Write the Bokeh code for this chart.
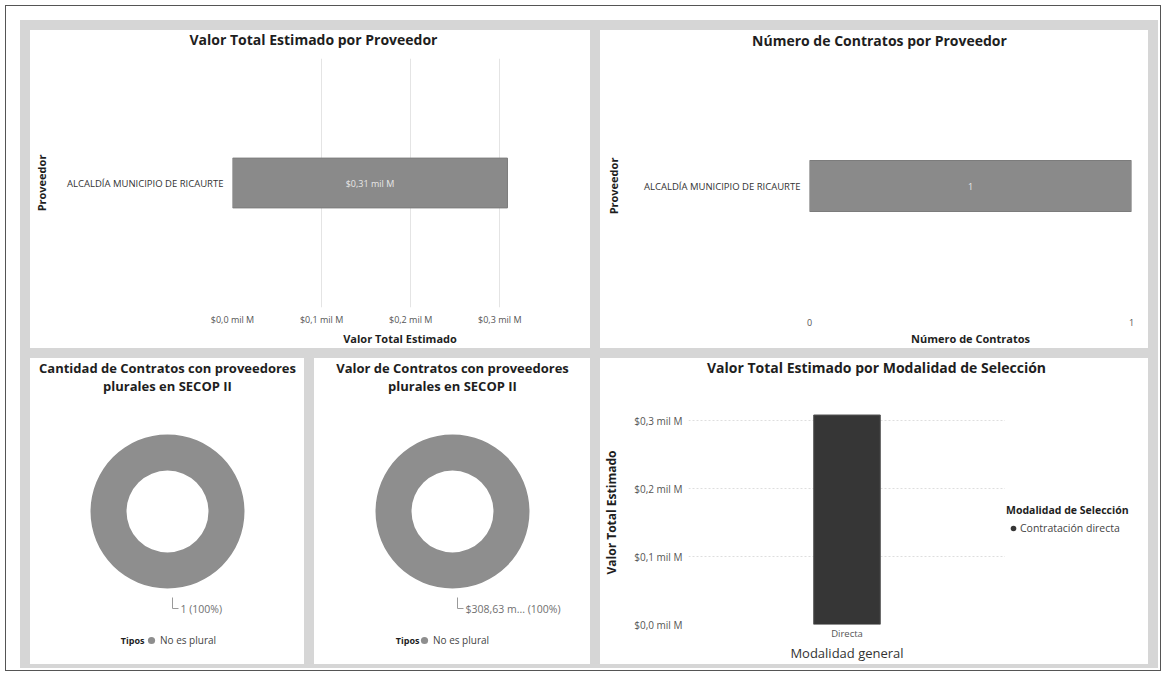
import numpy as np
from bokeh.plotting import figure
from bokeh.models import (ColumnDataSource, FixedTicker, Range1d, FactorRange,
                          Legend, LegendItem, Label)
from bokeh.layouts import row, column
from bokeh.core.properties import value
from bokeh.embed import file_html
from bokeh.resources import INLINE

# ---------------- data ----------------
proveedores = ["ALCALDÍA MUNICIPIO DE RICAURTE"]
valor_total_mil_m = [0.30863]          # mil millones
valor_labels = ["$0,31 mil M"]
num_contratos = [1]
num_contratos_labels = ["1"]
valor_ticks = [0, 0.1, 0.2, 0.3]
valor_tick_labels = ["$0,0 mil M", "$0,1 mil M", "$0,2 mil M", "$0,3 mil M"]
contratos_ticks = [0, 1]
contratos_tick_labels = ["0", "1"]
tipos = ["No es plural"]
cantidad_tipo = [1]
cantidad_tipo_labels = ["1 (100%)"]
valor_tipo = [308.63]                  # millones
valor_tipo_labels = ["$308,63 m... (100%)"]
modalidad_general = ["Directa"]
modalidad_seleccion = ["Contratación directa"]
valor_modalidad = [0.30863]

# ---------------- style ----------------
FONT = "Open Sans"
BAR_GRAY = "#8a8a8a"
DONUT_GRAY = "#8e8e8e"
DARK = "#363636"
TXT = "#1e1e1e"
TICK = "#555555"
PANEL = {"background-color": "white"}
COMMON = dict(output_backend="svg", toolbar_location=None, styles=PANEL, frame_align=False)
BOTTOM_H = 306


def base_style(p):
    p.outline_line_color = None
    p.background_fill_color = None
    p.border_fill_color = None
    for ax in p.axis:
        ax.axis_line_color = None
        ax.major_tick_line_color = None
        ax.minor_tick_line_color = None
        ax.major_tick_out = 0
        ax.major_tick_in = 0
        ax.minor_tick_out = 0
        ax.major_label_text_font = FONT
        ax.major_label_text_color = TICK
        ax.axis_label_text_font = FONT
        ax.axis_label_text_font_style = "bold"
        ax.axis_label_text_color = TXT
        ax.axis_label_text_font_size = "11px"


def blank(p):
    base_style(p)
    p.axis.visible = False
    p.grid.grid_line_color = None


def title_strip(text, width, height, cx, cy_from_top):
    # a thin strip holding a panel title (1 data unit = 1 px)
    t = figure(width=width, height=height, x_range=Range1d(0, width),
               y_range=Range1d(0, height), min_border=0, title=None, **COMMON)
    t.text(x=[cx], y=[height - cy_from_top], text=[text], text_align="center",
           text_baseline="middle", text_font=value(FONT), text_font_size="14px",
           text_font_style="bold", text_color=TXT)
    blank(t)
    return t


def hbar_panel(values, labels, xmax, ticks, tick_labels, xlabel, width, bl, br, ystand):
    p = figure(width=width, height=290, y_range=FactorRange(factors=proveedores),
               x_range=Range1d(0, xmax), min_border_left=bl, min_border_right=br,
               min_border_top=0, min_border_bottom=35, title=None, **COMMON)
    src = ColumnDataSource(dict(prov=proveedores, v=values, lab=labels,
                                mid=[v / 2 for v in values]))
    p.hbar(y="prov", left=0, right="v", height=0.2, source=src,
           fill_color=BAR_GRAY, line_color="#7c7c7c")
    p.text(x="mid", y="prov", text="lab", source=src, text_align="center",
           text_baseline="middle", text_color="#e8e8e8", text_font_size="9px",
           text_font=value(FONT))
    base_style(p)
    p.xaxis.ticker = FixedTicker(ticks=ticks)
    p.xaxis.major_label_overrides = dict(zip(ticks, tick_labels))
    p.xaxis.major_label_text_font_size = "9px"
    p.xaxis.major_label_standoff = 5
    p.xaxis.axis_label = xlabel
    p.xaxis.axis_label_standoff = 2
    p.yaxis.axis_label = "Proveedor"
    p.yaxis.major_label_text_font_size = "9.5px"
    p.yaxis.major_label_text_color = "#333333"
    p.yaxis.major_label_standoff = 9
    p.yaxis.axis_label_standoff = ystand
    p.ygrid.grid_line_color = None
    p.xgrid.grid_line_color = "#e4e4e4"
    return p


t1 = title_strip("Valor Total Estimado por Proveedor", 560, 28, 283, 9)
p1 = hbar_panel(valor_total_mil_m, valor_labels, 0.376, valor_ticks, valor_tick_labels,
                "Valor Total Estimado", 560, 201, 23, 15)
t2 = title_strip("Número de Contratos por Proveedor", 548, 28, 279, 10)
p2 = hbar_panel(num_contratos, num_contratos_labels, 1, contratos_ticks,
                contratos_tick_labels, "Número de Contratos", 548, 209, 17, 20)


def donut_panel(title_lines, values, labels, width, leg_x, tipos_x):
    half = width / 2
    # 1 data unit = 1 px; donut centre 153 px below the panel top
    p = figure(width=width, height=BOTTOM_H, x_range=Range1d(-half, half),
               y_range=Range1d(153 - BOTTOM_H, 153), min_border=0, title=None, **COMMON)
    for k, line in enumerate(title_lines):
        p.text(x=[0], y=[144 - 18 * k], text=[line], text_align="center",
               text_baseline="middle", text_font=value(FONT), text_font_size="13px",
               text_font_style="bold", text_color=TXT)
    total = float(sum(values))
    cum = np.concatenate([[0.0], np.cumsum(values)]) / total
    start = np.pi / 2 - 2 * np.pi * cum[:-1]
    end = np.pi / 2 - 2 * np.pi * cum[1:]
    mid = (start + end) / 2
    src = ColumnDataSource(dict(tipo=tipos, v=values, s=start, e=end))
    p.annular_wedge(x=0, y=0, inner_radius=41, outer_radius=77, start_angle="s",
                    end_angle="e", direction="clock", source=src,
                    fill_color=DONUT_GRAY, line_color=None)
    ax = 77 * np.cos(mid)
    ay = 77 * np.sin(mid)
    for i in range(len(values)):
        p.line(x=[ax[i] + 5, ax[i] + 5, ax[i] + 11], y=[ay[i] - 9, ay[i] - 20, ay[i] - 20],
               line_color="#9a9a9a", line_width=1)
        p.text(x=[ax[i] + 13], y=[ay[i] - 20], text=[labels[i]], text_align="left",
               text_baseline="middle", text_color="#707070", text_font_size="10.5px",
               text_font=value(FONT))
    blank(p)
    proxy = p.scatter(x=[np.nan], y=[np.nan], marker="circle", size=8,
                      fill_color=DONUT_GRAY, line_color=None)
    leg = Legend(items=[LegendItem(label=tipos[0], renderers=[proxy])],
                 location=(leg_x, 15), padding=0, margin=0, spacing=0,
                 glyph_width=18, glyph_height=18, label_height=12, label_standoff=0,
                 label_text_font=FONT, label_text_font_size="10px",
                 label_text_color="#444444", border_line_color=None,
                 background_fill_alpha=0)
    p.add_layout(leg)
    p.add_layout(Label(x=tipos_x, y=-129, text="Tipos", text_align="right",
                       text_baseline="middle", text_font=FONT, text_font_size="9px",
                       text_font_style="bold", text_color=TXT))
    return p


p3 = donut_panel(["Cantidad de Contratos con proveedores", "plurales en SECOP II"],
                 cantidad_tipo, cantidad_tipo_labels, 274, 112, -23)
p4 = donut_panel(["Valor de Contratos con proveedores", "plurales en SECOP II"],
                 valor_tipo, valor_tipo_labels, 276, 101, -33)

# ---------------- modalidad ----------------
p5t = title_strip("Valor Total Estimado por Modalidad de Selección", 548, 42, 276, 9)

p5 = figure(width=405, height=BOTTOM_H - 42, x_range=FactorRange(factors=modalidad_general),
            y_range=Range1d(0, 0.33), min_border_left=87, min_border_right=0,
            min_border_top=0, min_border_bottom=40, title=None, **COMMON)
src5 = ColumnDataSource(dict(m=modalidad_general, v=valor_modalidad, s=modalidad_seleccion))
p5.vbar(x="m", top="v", width=0.21, source=src5, fill_color=DARK, line_color="#555555")
base_style(p5)
p5.yaxis.ticker = FixedTicker(ticks=valor_ticks)
p5.yaxis.major_label_overrides = dict(zip(valor_ticks, valor_tick_labels))
p5.yaxis.major_label_text_font_size = "10px"
p5.yaxis.major_label_standoff = 6
p5.yaxis.axis_label = "Valor Total Estimado"
p5.yaxis.axis_label_text_font_size = "12px"
p5.yaxis.axis_label_standoff = 11
p5.xaxis.major_label_text_font_size = "9.5px"
p5.xaxis.major_label_standoff = 2
p5.xaxis.axis_label = "Modalidad general"
p5.xaxis.axis_label_text_font_style = "normal"
p5.xaxis.axis_label_text_font_size = "13px"
p5.xaxis.axis_label_text_color = "#333333"
p5.xaxis.axis_label_standoff = 1
p5.xgrid.grid_line_color = None
p5.ygrid.grid_line_color = "#dedede"
p5.ygrid.grid_line_dash = "2 2"

p5l = figure(width=143, height=BOTTOM_H - 42, x_range=Range1d(0, 1), y_range=Range1d(0, 1),
             min_border=0, title=None, **COMMON)
blank(p5l)
proxy5 = p5l.scatter(x=[np.nan], y=[np.nan], marker="circle", size=8, fill_color=DARK,
                     line_color=None)
leg5 = Legend(items=[LegendItem(label=modalidad_seleccion[0], renderers=[proxy5])],
              title="Modalidad de Selección", location=(1, 128), padding=0, margin=0,
              spacing=0, glyph_width=14, glyph_height=16, label_height=12, label_standoff=0,
              label_text_font=FONT, label_text_font_size="10.5px", label_text_color="#444444",
              title_text_font=FONT, title_text_font_size="10.5px", title_text_font_style="bold",
              title_text_color=TXT, title_standoff=3, border_line_color=None,
              background_fill_alpha=0)
p5l.add_layout(leg5)

panel5 = column(p5t, row(p5, p5l, spacing=0), spacing=0)

top = row(column(t1, p1, spacing=0), column(t2, p2, spacing=0), spacing=10)
bottom = row(p3, p4, panel5, spacing=10)
inner = column(top, bottom, spacing=10,
               styles={"background-color": "#d6d6d6", "padding": "10px 10px 4px 10px"})
page = column(inner, margin=(5, 0, 0, 5),
              styles={"border": "1px solid #555555", "padding": "14px 2px 2px 14px",
                      "background-color": "white"})

open("out.html", "w").write(file_html(page, INLINE))
